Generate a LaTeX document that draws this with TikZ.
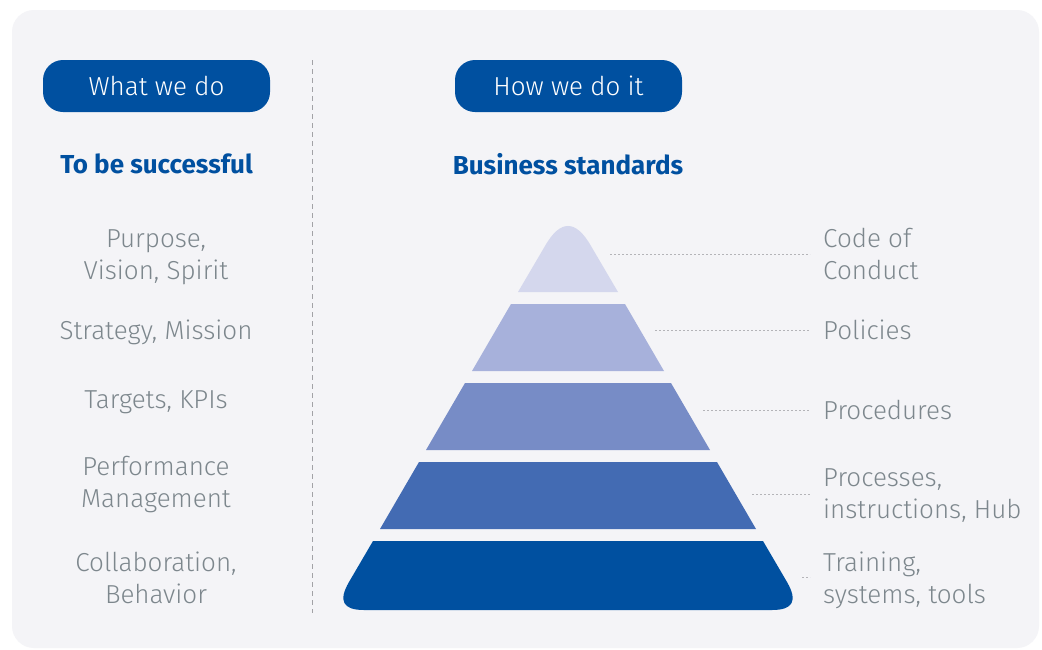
\documentclass[tikz,border=0pt]{standalone}
\usepackage{fontspec}
\setmainfont{Fira Sans}
\newfontfamily\lightfont{Fira Sans Light}
\definecolor{bgc}{HTML}{F4F4F7}
\definecolor{brandblue}{HTML}{0050A0}
\definecolor{tierA}{HTML}{D4D7ED}
\definecolor{tierB}{HTML}{A7B1DB}
\definecolor{tierC}{HTML}{778CC6}
\definecolor{tierD}{HTML}{436BB3}
\definecolor{txtgray}{HTML}{7D878D}
\definecolor{leadgray}{HTML}{B4B4B8}
\begin{document}
\begin{tikzpicture}[x=1pt,y=-1pt,
  pill/.style={fill=brandblue, text=white, rounded corners=20pt, minimum width=227pt, minimum height=52pt, font=\lightfont\fontsize{26}{32}\selectfont, inner sep=0pt},
  head/.style={text=brandblue, font=\bfseries\fontsize{26}{32}\selectfont, inner sep=0pt},
  lbl/.style={text=txtgray, font=\lightfont\fontsize{26}{32}\selectfont, align=center, inner sep=0pt},
  rlbl/.style={lbl, align=left, anchor=west},
  leader/.style={draw=leadgray, line width=0.8pt, dash pattern=on 2pt off 2pt},
  divider/.style={draw=leadgray!90!black, line width=0.8pt, dash pattern=on 5pt off 4pt}
]
\useasboundingbox (0,0) rectangle (1042,649);
\fill[white] (0,0) rectangle (1042,649);
\fill[bgc, rounded corners=22pt] (12,10) rectangle (1039,648);

% divider
\coordinate (dtop) at (312,60);
\coordinate (dbot) at (312,613);
\draw[divider] (dtop) -- (dbot);

% pills and headings
\node[pill] (what) at (156.5,86) {What we do};
\node[pill] (how) at (568.5,86) {How we do it};
\node[head] (succ) at (156.5,164) {To be successful};
\node[head] (bstd) at (568,164) {Business standards};

% left labels
\node[lbl] (l1) at (156,257) {Purpose,\\Vision, Spirit};
\node[lbl] (l2) at (156,332) {Strategy, Mission};
\node[lbl] (l3) at (156,402) {Targets, KPIs};
\node[lbl] (l4) at (156,484) {Performance\\Management};
\node[lbl] (l5) at (156,578) {Collaboration,\\Behavior};

% pyramid
\fill[tierA] (518,292) -- (545,246) .. controls (560.3,219.3) and (575.7,219.3) .. (591,246) -- (618,292) -- cycle;
\fill[tierB] (511,304) -- (625,304) -- (664,371) -- (472,371) -- cycle;
\fill[tierC] (465,383) -- (671,383) -- (710,450) -- (426,450) -- cycle;
\fill[tierD] (419,462) -- (717,462) -- (756,529) -- (380,529) -- cycle;
\fill[brandblue] (373,541) -- (763,541) -- (787,582)
  .. controls (798,601) and (793,610) .. (772,610) -- (364,610)
  .. controls (343,610) and (338,601) .. (349,582) -- cycle;

% right labels
\node[rlbl] (r1) at (823,254) {Code of\\Conduct};
\node[rlbl] (r2) at (823,330) {Policies};
\node[rlbl] (r3) at (823,410) {Procedures};
\node[rlbl] (r4) at (823,496) {Processes,\\instructions, Hub};
\node[rlbl] (r5) at (823,580) {Training,\\systems, tools};

% leaders
\coordinate (s1) at (610,254);
\coordinate (s2) at (655,330);
\coordinate (s3) at (703,410);
\coordinate (s4) at (752,494);
\coordinate (s5) at (802,577);
\draw[leader] (s1) -- ([xshift=-13pt]s1 -| r1.west);
\draw[leader] (s2) -- ([xshift=-13pt]s2 -| r2.west);
\draw[leader] (s3) -- ([xshift=-13pt]s3 -| r3.west);
\draw[leader] (s4) -- ([xshift=-13pt]s4 -| r4.west);
\draw[leader] (s5) -- ([xshift=-13pt]s5 -| r5.west);
\end{tikzpicture}
\end{document}
